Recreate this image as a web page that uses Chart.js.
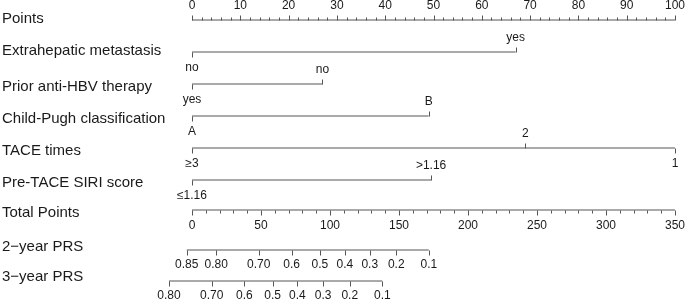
<!DOCTYPE html>
<html>
<head>
<meta charset="utf-8">
<script src="https://cdn.jsdelivr.net/npm/chart.js@4.4.1/dist/chart.umd.min.js"></script>
<style>
html,body{margin:0;padding:0;background:#fff;}
#wrap{width:685px;height:301px;}
</style>
</head>
<body>
<div id="wrap"><canvas id="c" width="685" height="301"></canvas></div>
<script>
// ---- data ----
const rowNames = ["Points","Extrahepatic metastasis","Prior anti-HBV therapy","Child-Pugh classification","TACE times","Pre-TACE SIRI score","Total Points","2\u2212year PRS","3\u2212year PRS"];
const rowY = [20, 52, 84, 116, 148, 180, 210, 250, 281];
const nameY = [18, 50, 86, 118, 150, 182, 212, 246, 276];

const pointsTickLabels = [0,10,20,30,40,50,60,70,80,90,100];
const totalTickLabels = [0,50,100,150,200,250,300,350];
const totalMax = 350;

const extraLevels = ["no","yes"];      const extraPoints = [0, 67];   const extraSide = ["below","above"];
const hbvLevels = ["yes","no"];        const hbvPoints = [0, 27];     const hbvSide = ["below","above"];
const cpLevels = ["A","B"];            const cpPoints = [0, 49];      const cpSide = ["below","above"];
const taceLevels = ["\u22653","2","1"]; const tacePoints = [0, 69, 100]; const taceSide = ["below","above","below"];
const siriLevels = ["\u22641.16",">1.16"]; const siriPoints = [0, 49.5]; const siriSide = ["below","above"];

const prs2Labels = ["0.85","0.80","0.70","0.6","0.5","0.4","0.3","0.2","0.1"];
const prs2Total = [-3.8, 17.6, 48.4, 72.2, 92.7, 110.8, 128.8, 148.0, 171.6];
const prs3Labels = ["0.80","0.70","0.6","0.5","0.4","0.3","0.2","0.1"];
const prs3Total = [-16.7, 14.3, 37.9, 58.4, 76.4, 95.0, 114.3, 137.9];

// ---- build ----
const LINE = "#555555";
const TEXT = "#1a1a1a";
const tp = v => v * 100 / totalMax;   // total points -> points scale

const variables = [
  {row:1, levels:extraLevels, pts:extraPoints, side:extraSide},
  {row:2, levels:hbvLevels, pts:hbvPoints, side:hbvSide},
  {row:3, levels:cpLevels, pts:cpPoints, side:cpSide},
  {row:4, levels:taceLevels, pts:tacePoints, side:taceSide},
  {row:5, levels:siriLevels, pts:siriPoints, side:siriSide}
];

function seg(x0, x1, y){
  return {data:[{x:x0,y:y},{x:x1,y:y}], showLine:true, borderColor:LINE, borderWidth:1, pointRadius:0, clip:false};
}
const datasets = [];
datasets.push(seg(0, 100, rowY[0]));
variables.forEach(v => datasets.push(seg(Math.min(...v.pts), Math.max(...v.pts), rowY[v.row])));
datasets.push(seg(0, tp(totalMax), rowY[6]));
datasets.push(seg(tp(Math.min(...prs2Total)), tp(Math.max(...prs2Total)), rowY[7]));
datasets.push(seg(tp(Math.min(...prs3Total)), tp(Math.max(...prs3Total)), rowY[8]));

const nomoPlugin = {
  id:'nomo',
  afterDatasetsDraw(chart){
    const ctx = chart.ctx;
    const xs = chart.scales.x, ys = chart.scales.y;
    const X = v => Math.round(xs.getPixelForValue(v)) + 0.5;
    const Y = v => Math.round(ys.getPixelForValue(v)) + 0.5;
    ctx.save();
    ctx.strokeStyle = LINE; ctx.lineWidth = 1;
    function tick(x, y, len){ ctx.beginPath(); ctx.moveTo(x, y); ctx.lineTo(x, y + len); ctx.stroke(); }
    function text(s, x, y, size){
      ctx.fillStyle = TEXT; ctx.font = size + "px 'Liberation Sans', Arial, sans-serif";
      ctx.textAlign = "center"; ctx.textBaseline = "middle"; ctx.fillText(s, x, y);
    }
    // row names
    rowNames.forEach((n, i) => {
      ctx.fillStyle = TEXT; ctx.font = "15px 'Liberation Sans', Arial, sans-serif";
      ctx.textAlign = "left"; ctx.textBaseline = "middle";
      ctx.fillText(n, 2, ys.getPixelForValue(nameY[i]) + 1);
    });
    // Points axis
    const py = Y(rowY[0]);
    for (let v = 0; v <= 100; v += 2) tick(X(v), py, v % 10 === 0 ? -5 : -3);
    pointsTickLabels.forEach(v => text(String(v), xs.getPixelForValue(v), py - 15, 12));
    // variables
    variables.forEach(v => {
      const y = Y(rowY[v.row]);
      v.levels.forEach((lab, i) => {
        const up = v.side[i] === "above";
        tick(X(v.pts[i]), y, up ? -5 : 5);
        text(lab, xs.getPixelForValue(v.pts[i]), y + (up ? -15 : 15), 12);
      });
    });
    // Total points
    const ty = Y(rowY[6]);
    for (let v = 0; v <= totalMax; v += 10) tick(X(tp(v)), ty, v % 50 === 0 ? 5 : 3);
    totalTickLabels.forEach(v => text(String(v), xs.getPixelForValue(tp(v)), ty + 15, 12));
    // PRS
    [[prs2Labels, prs2Total, 7], [prs3Labels, prs3Total, 8]].forEach(([labs, tot, r]) => {
      const y = Y(rowY[r]);
      labs.forEach((l, i) => {
        tick(X(tp(tot[i])), y, 5);
        text(l, xs.getPixelForValue(tp(tot[i])), y + 14, 12);
      });
    });
    ctx.restore();
  }
};

new Chart(document.getElementById('c'), {
  type:'scatter',
  data:{datasets:datasets},
  options:{
    responsive:false, animation:false, events:[],
    layout:{padding:{left:192, right:10, top:0, bottom:0}},
    plugins:{legend:{display:false}, tooltip:{enabled:false}},
    scales:{
      x:{type:'linear', min:0, max:100, display:false},
      y:{type:'linear', min:0, max:301, reverse:true, display:false}
    }
  },
  plugins:[nomoPlugin]
});
</script>
</body>
</html>
